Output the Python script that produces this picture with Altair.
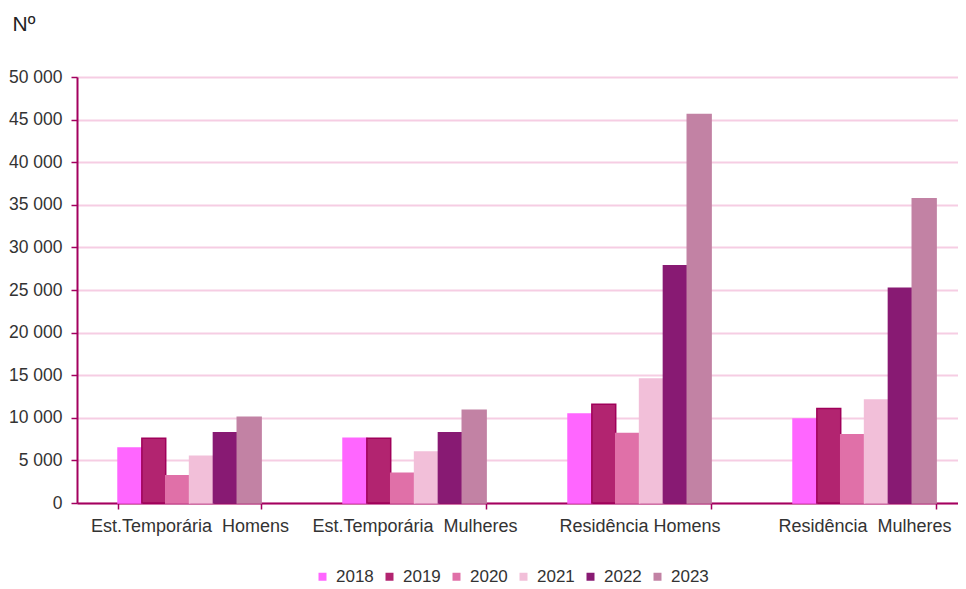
import altair as alt
import pandas as pd

categories = ["Est.Temporária  Homens", "Est.Temporária  Mulheres", "Residência Homens", "Residência  Mulheres"]
years = ["2018", "2019", "2020", "2021", "2022", "2023"]
values = {
    "2018": [6450, 7600, 10450, 9850],
    "2019": [7600, 7600, 11600, 11100],
    "2020": [3200, 3500, 8150, 8000],
    "2021": [5500, 6000, 14550, 12100],
    "2022": [8250, 8250, 27850, 25200],
    "2023": [10050, 10900, 45600, 35700],
}
fill_colors = ["#FF66FF", "#B22470", "#E070A8", "#F2BFD9", "#881A73", "#C282A4"]
stroke_colors = ["#FF66FF", "#A0005A", "#E070A8", "#F2BFD9", "#881A73", "#C282A4"]
y_ticks = [0, 5000, 10000, 15000, 20000, 25000, 30000, 35000, 40000, 45000, 50000]

rows = []
for y in years:
    for c, v in zip(categories, values[y]):
        rows.append({"cat": c, "year": y, "value": v})
df = pd.DataFrame(rows)

AX = "#A3005F"
FONT = "Liberation Sans"

chart = alt.Chart(df).mark_bar(strokeWidth=1.5).encode(
    x=alt.X("cat:N", sort=categories,
            scale=alt.Scale(paddingInner=0.364, paddingOuter=0.1398, align=0.652),
            axis=alt.Axis(title=None, labelAngle=0, labelFontSize=18, labelColor="#333333",
                          labelFont=FONT, labelPadding=8, labelLimit=0, domainColor=AX,
                          domainWidth=2, ticks=True, tickBand="extent",
                          tickColor=AX, tickWidth=1.5, tickSize=6,
                          grid=False,
                          labelExpr="replace(datum.label, '  ', '\u00a0 ')")),
    xOffset=alt.XOffset("year:N", sort=years, scale=alt.Scale(paddingInner=0, paddingOuter=0)),
    y=alt.Y("value:Q", scale=alt.Scale(domain=[0, 50000], nice=False),
            axis=alt.Axis(values=y_ticks, title="Nº", titleAngle=0, titleAlign="left",
                          titleBaseline="middle", titleX=-65, titleY=-53, titleFontSize=21,
                          titleFontWeight="normal", titleFont=FONT, titleColor="#222222",
                          labelFontSize=17.5, labelFont=FONT, labelColor="#333333", labelPadding=9,
                          labelExpr="replace(format(datum.value, ',d'), ',', ' ')",
                          domainColor=AX, domainWidth=2, tickColor=AX, tickWidth=1.5, tickSize=6,
                          gridColor="#F6CDE3", gridWidth=2)),
    color=alt.Color("year:N", sort=years, scale=alt.Scale(domain=years, range=fill_colors),
                    legend=alt.Legend(title=None, orient="none", legendX=237, legendY=491,
                                      direction="horizontal", columns=6, symbolType="square",
                                      symbolSize=64, symbolStrokeWidth=0, labelFontSize=17,
                                      labelFont=FONT, labelColor="#333333", labelOffset=5,
                                      columnPadding=7, padding=0)),
    stroke=alt.Stroke("year:N", sort=years, scale=alt.Scale(domain=years, range=stroke_colors),
                      legend=None),
).properties(
    width=881, height=426,
    autosize=alt.AutoSizeParams(type="none"),
    padding={"left": 69, "top": 69, "right": 0, "bottom": 86},
).configure_view(stroke=None).configure(background="white")

chart.save("out.html", embed_options={"renderer": "svg", "actions": False})
